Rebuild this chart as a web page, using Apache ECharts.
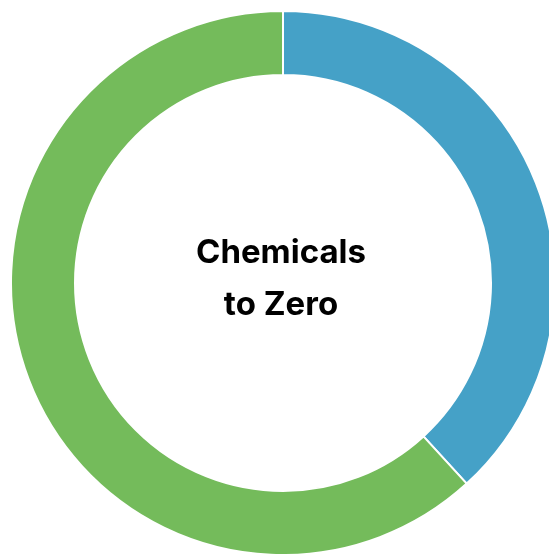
<!DOCTYPE html>
<html>
<head>
<meta charset="utf-8">
<script src="https://cdn.jsdelivr.net/npm/echarts@6/dist/echarts.min.js"></script>
<style>
html,body{margin:0;padding:0;background:#fff;}
#chart{width:549px;height:554px;}
</style>
</head>
<body>
<div id="chart"></div>
<script>
const categories = ['Blue segment', 'Green segment'];
const values = [38.2, 61.8];
const colors = ['#45A1C7', '#74BB5B'];
const centerText = 'Chemicals\nto Zero';

const chart = echarts.init(document.getElementById('chart'), null, {renderer: 'canvas'});
chart.setOption({
  animation: false,
  backgroundColor: '#ffffff',
  graphic: [{
    type: 'text',
    x: 281,
    y: 279,
    style: {
      text: centerText,
      align: 'center',
      verticalAlign: 'middle',
      font: 'bold 33px Inter, Roboto, "Liberation Sans", sans-serif',
      lineHeight: 52,
      fill: '#000'
    }
  }],
  series: [{
    type: 'pie',
    center: [283, 283],
    radius: [208, 272],
    startAngle: 90,
    clockwise: true,
    label: {show: false},
    labelLine: {show: false},
    emphasis: {disabled: true},
    itemStyle: {borderColor: '#ffffff', borderWidth: 2},
    data: categories.map((c, i) => ({name: c, value: values[i], itemStyle: {color: colors[i]}}))
  }]
});
</script>
</body>
</html>
